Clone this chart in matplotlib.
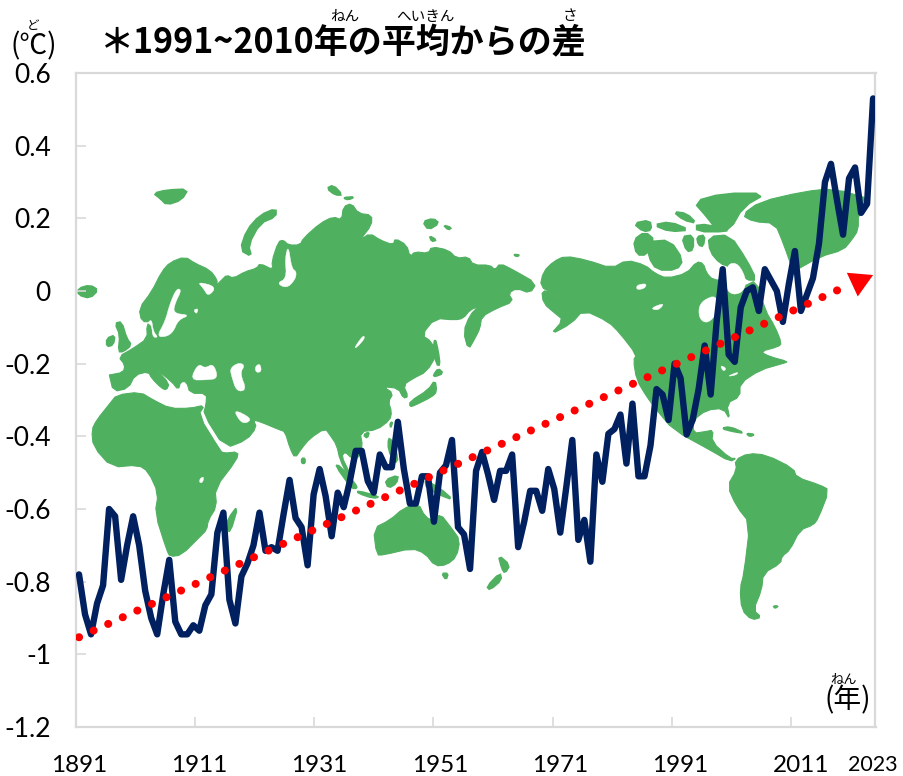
import matplotlib
matplotlib.use('Agg')
import matplotlib.pyplot as plt
from matplotlib.patches import Polygon

JP = ['Noto Sans CJK JP', 'DejaVu Sans']
NUM = ['Lato', 'DejaVu Sans']
plt.rcParams['font.family'] = NUM

years = list(range(1891, 2024))
anomaly = [
    -0.78, -0.89, -0.945, -0.86, -0.81, -0.60, -0.62, -0.795, -0.70, -0.62,
    -0.70, -0.825, -0.90, -0.945, -0.835, -0.74, -0.91, -0.945, -0.945, -0.92,
    -0.935, -0.865, -0.835, -0.665, -0.61, -0.85, -0.915, -0.785, -0.75, -0.70,
    -0.61, -0.715, -0.705, -0.715, -0.615, -0.52, -0.625, -0.65, -0.755, -0.56,
    -0.49, -0.565, -0.675, -0.555, -0.595, -0.525, -0.44, -0.44, -0.523, -0.555,
    -0.45, -0.485, -0.485, -0.36, -0.49, -0.585, -0.585, -0.51, -0.51, -0.635,
    -0.50, -0.48, -0.41, -0.65, -0.67, -0.765, -0.495, -0.443, -0.505, -0.575,
    -0.495, -0.495, -0.45, -0.705, -0.635, -0.55, -0.55, -0.605, -0.49, -0.545,
    -0.665, -0.54, -0.41, -0.685, -0.63, -0.745, -0.45, -0.525, -0.393, -0.38,
    -0.34, -0.475, -0.31, -0.51, -0.51, -0.425, -0.27, -0.285, -0.355, -0.20,
    -0.24, -0.395, -0.355, -0.27, -0.15, -0.285, -0.083, 0.06, -0.175, -0.195,
    -0.045, 0.0, 0.01, -0.055, 0.06, 0.03, 0.0, -0.085, 0.02, 0.11,
    -0.055, -0.01, 0.035, 0.13, 0.30, 0.35, 0.25, 0.155, 0.31, 0.34,
    0.215, 0.24, 0.53,
]
trend_years = [1891, 2019.3]
trend_values = [-0.953, 0.019]

y_ticks = [0.6, 0.4, 0.2, 0, -0.2, -0.4, -0.6, -0.8, -1, -1.2]
y_labels = ['0.6', '0.4', '0.2', '0', '-0.2', '-0.4', '-0.6', '-0.8', '-1', '-1.2']
x_label_years = [1891, 1911, 1931, 1951, 1971, 1991, 2011, 2023]
x_tick_marks = [1910.3, 1930.1, 1949.9, 1969.8, 1989.6, 2009.4]

GREEN = '#4FB060'
NAVY = '#002060'
GRID = '#D9D9D9'


def z(ox, oy, pts):
    return [(ox + a / 3, oy + b / 3) for a, b in pts]


def smooth(pts, rounds=2):
    for _ in range(rounds):
        out = []
        for i, (x0, y0) in enumerate(pts):
            x1, y1 = pts[(i + 1) % len(pts)]
            out.append((0.75 * x0 + 0.25 * x1, 0.75 * y0 + 0.25 * y1))
            out.append((0.25 * x0 + 0.75 * x1, 0.25 * y0 + 0.75 * y1))
        pts = out
    return pts


eurasia_pts = (
    z(70, 175, [(118,600),(160,592),(165,570),(145,545),(190,520),(232,490),(230,450),(245,440),(215,440),(207,400),(245,350),(275,290),(300,262),(345,245),(375,265),(420,285),(442,315),(440,330),(455,315),(470,300),(490,310),(525,290),(560,280),(570,265),(610,285),(605,260),(625,200),(640,195),(655,210),(690,210),(700,190),(750,145)])
    + z(300, 175, [(100,125),(125,135),(130,95),(155,85),(175,115),(215,120),(215,150),(180,195),(210,175),(240,195),(280,210),(285,190),(320,210),(330,245),(345,230),(385,235),(395,215),(445,225),(470,250),(505,245),(520,270),(570,270),(585,285),(600,265),(640,285),(710,325),(690,355),(650,340),(625,355),(640,380),(590,400),(545,425),(540,460),(525,490),(505,525),(490,470),(510,420),(535,395),(510,405),(490,430),(465,435),(405,430),(365,480),(395,500),(410,540),(380,590),(340,610),(310,630),(325,665),(310,670),(295,640),(250,635),(280,655),(265,680),(275,710)])
    + z(280, 380, [(330,120),(290,150),(240,155),(248,200),(235,235),(215,235),(195,215),(185,230),(205,270),(218,300),(205,290),(180,240),(170,195),(150,165),(135,145),(90,175),(65,205),(45,235),(30,205),(15,155),(0,150)])
    + z(90, 340, [(510,245),(490,240),(500,262),(470,300),(405,325),(340,222),(348,195),(350,160),(300,160),(290,125),(272,125),(265,150),(245,125),(195,85),(238,130),(230,150),(215,145),(185,115),(175,95),(135,105),(115,145),(70,155),(58,105)])
)
africa_pts = z(60, 380, [(95,150),(110,120),(150,70),(170,45),(240,36),(280,60),(330,85),(390,85),(435,75),(415,105),(480,210),(490,220),(535,215),(530,240),(465,325),(470,380),(445,420),(440,450),(420,470),(365,525),(330,530),(320,510),(285,400),(295,340),(265,275),(235,255),(155,262),(100,200)])
namerica_pts = z(530, 180, [(40,275),(70,245),(105,228),(170,240),(245,265),(290,240),(345,255),(375,280),(410,295),(470,280),(500,245),(520,250),(530,280),(550,300),(590,300),(640,320),(680,300),(705,390),(735,440),(755,490),(745,500),(690,515),(720,530),(775,545),(760,550),(690,570),(630,610),(630,650),(590,670),(600,720),(580,685),(530,690),(490,720),(490,760),(525,755),(550,750),(545,785),(600,835),(620,835),(600,845),(540,810),(430,750),(380,690),(350,650),(320,600),(310,540),(320,525),(270,460),(235,425),(160,390),(125,430),(60,465),(100,420),(75,400),(40,370),(35,330),(70,340),(30,320)])
samerica_pts = z(620, 400, [(345,180),(385,160),(440,165),(520,205),(530,232),(600,255),(628,270),(595,355),(580,375),(540,390),(510,450),(485,470),(482,490),(430,520),(425,570),(400,630),(425,652),(395,660),(365,630),(360,565),(372,520),(390,370),(350,320),(322,258),(350,210)])
greenland_pts = z(620, 80, [(365,405),(420,365),(550,335),(640,325),(760,360),(715,400),(715,450),(695,480),(670,510),(600,530),(520,575),(490,490),(465,430),(400,425)])
australia_pts = z(340, 380, [(100,445),(150,420),(190,385),(235,370),(255,410),(285,425),(300,400),(335,445),(360,480),(350,530),(320,555),(285,558),(255,520),(215,505),(130,525),(110,525)])

islands = [
    z(60, 380, [(535,375),(510,460),(500,440),(505,415)]),
    z(280, 380, [(65,235),(75,235),(75,250),(65,250)]),
    z(280, 380, [(250,165),(268,155),(262,175)]),
    z(280, 380, [(330,130),(338,125),(332,145)]),
    z(280, 380, [(165,255),(180,258),(225,310),(232,325),(215,325)]),
    z(280, 380, [(232,332),(300,350),(280,355),(235,340)]),
    z(280, 380, [(325,175),(335,180),(355,235),(345,250),(325,210)]),
    z(340, 380, [(135,300),(175,285),(170,310),(145,325)]),
    z(340, 380, [(255,300),(300,325),(340,360),(300,345),(260,325)]),
    z(340, 380, [(305,580),(325,580),(318,600)]),
    z(340, 380, [(475,525),(510,555),(495,580),(485,565)]),
    z(340, 380, [(480,578),(485,600),(450,630),(440,620)]),
    z(300, 175, [(330,680),(385,645),(405,615),(410,650),(395,665),(345,690),(330,695)]),
    z(300, 175, [(400,600),(415,580),(430,595),(405,605)]),
    z(300, 175, [(405,488),(415,530),(420,570),(410,570),(400,520)]),
    z(300, 175, [(368,140),(400,130),(418,145),(385,165)]),
    z(300, 175, [(430,150),(455,158),(445,165)]),
    z(300, 175, [(388,182),(410,195),(395,200)]),
    z(300, 175, [(80,40),(100,30),(128,60),(105,60)]),
    z(300, 175, [(128,68),(165,65),(145,75)]),
    z(300, 175, [(640,238),(660,240),(650,245)]),
    z(70, 175, [(510,225),(530,165),(570,120),(618,100),(618,125),(570,145),(535,210),(545,245)]),
    z(70, 175, [(250,55),(290,45),(355,42),(335,75),(290,90),(270,70)]),
    z(70, 175, [(25,340),(60,330),(85,345),(60,370),(25,360)]),
    z(70, 175, [(135,445),(155,440),(170,490),(185,510),(160,530),(145,530),(150,480)]),
    z(70, 175, [(110,490),(135,480),(130,510),(110,515)]),
    z(530, 180, [(310,180),(345,155),(375,180),(350,225),(320,225)]),
    z(530, 180, [(355,185),(420,180),(460,240),(440,270),(380,270),(355,230)]),
    z(530, 180, [(455,170),(490,165),(490,210),(470,215)]),
    z(530, 180, [(500,170),(525,165),(520,200),(505,195)]),
    z(530, 180, [(310,130),(360,120),(365,150),(340,155)]),
    z(530, 180, [(370,135),(420,125),(480,150),(420,155)]),
    z(530, 180, [(430,95),(470,100),(500,130),(460,120)]),
    z(530, 180, [(490,65),(580,40),(710,40),(640,80),(600,150),(560,150),(530,110)]),
    z(530, 180, [(500,130),(590,145),(590,155),(500,155)]),
    z(530, 180, [(535,170),(600,165),(650,240),(680,300),(650,300),(600,260),(570,250),(540,215)]),
    z(620, 400, [(303,85),(330,80),(375,100),(340,95)]),
    z(620, 400, [(378,100),(405,103),(390,110)]),
    z(620, 400, [(460,618),(475,618),(465,625)]),
]
water = [
    z(90, 340, [(300,120),(325,70),(345,85),(370,70),(385,115),(350,120)]),
    z(90, 340, [(420,85),(445,68),(465,75),(450,100),(470,150),(440,155),(425,110)]),
    z(90, 340, [(495,80),(510,70),(515,95),(498,98)]),
    z(90, 340, [(430,207),(485,235),(470,250),(450,245)]),
    z(70, 175, [(260,485),(285,440),(300,385),(320,340),(335,345),(315,385),(310,415),(360,420),(325,435),(310,470),(290,485)]),
    z(70, 175, [(232,445),(245,432),(250,470),(265,487),(248,487),(245,450)]),
    z(70, 175, [(382,320),(440,335),(415,365),(400,340)]),
    z(70, 175, [(370,405),(385,400),(380,418)]),
    z(70, 175, [(655,210),(665,280),(680,290),(675,315),(650,340),(620,325),(650,310),(645,250)]),
    z(300, 175, [(163,518),(190,480),(195,490),(170,518)]),
    z(60, 380, [(420,295),(432,290),(428,308),(418,308)]),
    z(530, 180, [(505,385),(520,360),(560,345),(565,395),(535,430),(510,420)]),
    z(530, 180, [(595,250),(625,250),(650,300),(640,335),(610,345),(590,330),(585,290)]),
    z(530, 180, [(320,315),(350,310),(345,325),(320,330)]),
    z(530, 180, [(360,385),(405,368),(385,392)]),
    z(530, 180, [(570,555),(590,565),(580,575)]),
    z(530, 180, [(590,590),(625,575),(620,585)]),
]

fig = plt.figure(figsize=(9.04, 7.76), dpi=100)

bg = fig.add_axes([0, 0, 1, 1], zorder=0)
bg.set_xlim(0, 904)
bg.set_ylim(776, 0)
bg.axis('off')
for pts in [eurasia_pts, africa_pts, namerica_pts, samerica_pts, greenland_pts, australia_pts]:
    bg.add_patch(Polygon(smooth(pts, 1), closed=True, fc=GREEN, ec=GREEN, lw=0.8))
for pts in islands:
    bg.add_patch(Polygon(smooth(pts, 1), closed=True, fc=GREEN, ec=GREEN, lw=1.2))
for pts in water:
    bg.add_patch(Polygon(smooth(pts), closed=True, fc='white', ec='white', lw=0.3))

ax = fig.add_axes([76 / 904, 1 - 727 / 776, 799.5 / 904, 654 / 776], zorder=1)
ax.patch.set_alpha(0)
ax.plot(years, anomaly, color=NAVY, lw=4.6, solid_joinstyle='round', solid_capstyle='round', zorder=3)
ax.plot(trend_years, trend_values, color='#FF0000', lw=5.8, linestyle=(0, (0.01, 1.98)),
        dash_capstyle='round', zorder=4)
ax.annotate('', xy=(2023, 0.044), xytext=(2019.6, 0.018),
            arrowprops=dict(arrowstyle='-|>,head_length=1.65,head_width=0.94', color='#FF0000',
                            lw=0, shrinkA=0, shrinkB=0, mutation_scale=10), zorder=5)

ax.set_xlim(1890.5, 2023.4)
ax.set_ylim(-1.2, 0.6)
ax.set_yticks(y_ticks)
ax.set_yticklabels(y_labels, fontsize=19, color='black')
ax.set_xticks(x_label_years)
ax.set_xticklabels([str(y) for y in x_label_years], fontsize=17.5, color='black')
ax.get_xticklabels()[-1].set_fontsize(15.5)
ax.set_xticks(x_tick_marks, minor=True)
ax.tick_params(axis='y', direction='in', length=7, width=1.2, color=GRID, pad=18)
ax.tick_params(axis='x', which='major', length=0, pad=20)
ax.tick_params(axis='x', which='minor', direction='in', length=7, width=1.2, color=GRID)
for s in ax.spines.values():
    s.set_color(GRID)
    s.set_linewidth(1.6)


def label(x, y, text, size, **kw):
    fig.text(x / 904, 1 - y / 776, text, fontsize=size, family=JP, ha='center', va='center', zorder=6, **kw)


label(343, 43, '＊1991~2010年の平均からの差', 24.5, fontweight='bold')
label(345, 17, 'ねん', 10.5)
label(425, 17, 'へいきん', 10.5)
label(570, 16, 'さ', 10.5)
label(34, 46, '(℃)', 20)
label(33, 26, 'ど', 9)
label(848, 700, '(年)', 20)
label(844, 680, 'ねん', 9.5)

fig.savefig('out.png', dpi=100)
plt.close(fig)
